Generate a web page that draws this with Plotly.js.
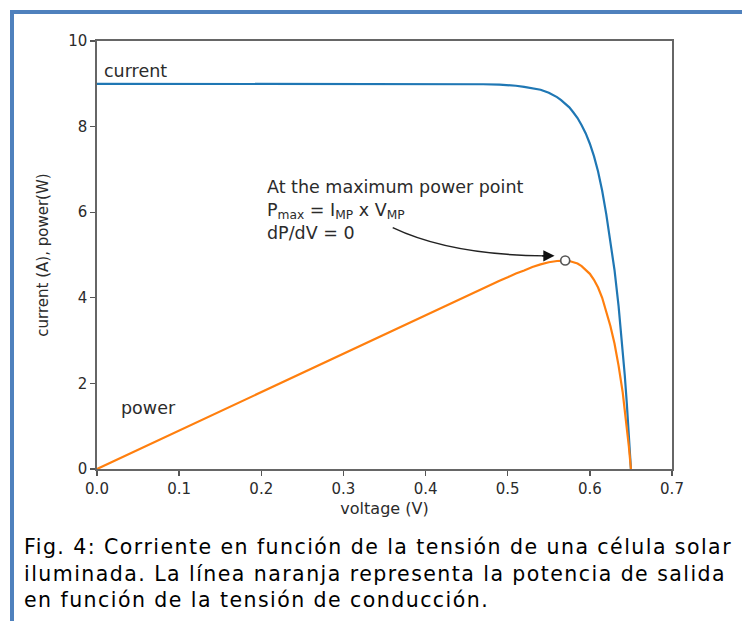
<!DOCTYPE html>
<html><head><meta charset="utf-8">
<script src="https://cdn.plot.ly/plotly-3.0.1.min.js"></script>
<style>html,body{margin:0;padding:0;background:#fff;}#c{width:742px;height:621px;}
g.annotation[data-index="4"] text{letter-spacing:1.45px;}</style>
</head><body><div id="c"></div>
<script>
// voltage samples (V)
const voltage = [0, 0.05, 0.1, 0.15, 0.2, 0.25, 0.3, 0.35, 0.4, 0.45, 0.47, 0.49, 0.5, 0.51, 0.52, 0.53, 0.54, 0.55, 0.56, 0.565, 0.57, 0.575, 0.58, 0.585, 0.59, 0.595, 0.6, 0.605, 0.61, 0.615, 0.62, 0.625, 0.63, 0.635, 0.64, 0.6425, 0.645, 0.6475, 0.65];
// current (A)
const current = [9.0, 9.0, 9.0, 9.0, 9.0, 9.0, 9.0, 9.0, 9.0, 8.995, 8.99, 8.98, 8.97, 8.955, 8.93, 8.90, 8.86, 8.79, 8.69, 8.62, 8.54, 8.45, 8.33, 8.20, 8.03, 7.84, 7.60, 7.31, 6.95, 6.50, 5.95, 5.35, 4.65, 3.80, 2.79, 2.19, 1.53, 0.80, 0];
// power (W)
const power = [0, 0.45, 0.9, 1.35, 1.8, 2.25, 2.7, 3.15, 3.6, 4.05, 4.23, 4.40, 4.48, 4.57, 4.64, 4.72, 4.78, 4.83, 4.86, 4.87, 4.87, 4.86, 4.83, 4.80, 4.74, 4.66, 4.56, 4.42, 4.24, 4.00, 3.69, 3.34, 2.93, 2.41, 1.79, 1.41, 0.99, 0.52, 0];
// maximum power point
const mppV = [0.57];
const mppP = [4.87];
const xTicks = [0, 0.1, 0.2, 0.3, 0.4, 0.5, 0.6, 0.7];
const xTickText = ["0.0", "0.1", "0.2", "0.3", "0.4", "0.5", "0.6", "0.7"];
const yTicks = [0, 2, 4, 6, 8, 10];

const W = 742, H = 621, L = 97, R = 70, T = 41, B = 152;
const pw = W - L - R, ph = H - T - B;
const px = v => (v - L) / pw;          // pixel x -> paper x
const py = v => (H - B - v) / ph;      // pixel y -> paper y

const txt = '#2b2b2b';
const traces = [
  {x: voltage, y: current, mode: 'lines', line: {color: '#1f77b4', width: 2.2}, hoverinfo: 'skip'},
  {x: voltage, y: power, mode: 'lines', line: {color: '#ff7f0e', width: 2.2}, hoverinfo: 'skip'},
  {x: mppV, y: mppP, mode: 'markers', marker: {color: '#ffffff', size: 9, line: {color: '#555555', width: 1.6}}, hoverinfo: 'skip'}
];

const layout = {
  width: W, height: H, showlegend: false,
  margin: {l: L, r: R, t: T, b: B, pad: 0},
  paper_bgcolor: '#ffffff', plot_bgcolor: '#ffffff',
  font: {family: 'DejaVu Sans', color: txt, size: 15},
  xaxis: {range: [0, 0.7], tickvals: xTicks, ticktext: xTickText, ticks: 'outside', ticklen: 5, tickcolor: '#555', tickwidth: 1.3,
          showgrid: false, zeroline: false, showline: true, mirror: true, linecolor: '#666', linewidth: 1.6,
          tickfont: {size: 15, color: txt}, title: {text: 'voltage (V)', font: {size: 16, color: txt}, standoff: 6}},
  yaxis: {range: [0, 10], tickvals: yTicks, ticks: 'outside', ticklen: 5, tickcolor: '#555', tickwidth: 1.3,
          showgrid: false, zeroline: false, showline: true, mirror: true, linecolor: '#666', linewidth: 1.6,
          tickfont: {size: 15, color: txt}, title: {text: 'current (A), power(W)', font: {size: 15, color: txt}, standoff: 16}},
  shapes: [
    {type: 'line', xref: 'paper', yref: 'paper', x0: px(10), x1: px(742), y0: py(12), y1: py(12), line: {color: '#4f81bd', width: 4}},
    {type: 'line', xref: 'paper', yref: 'paper', x0: px(12), x1: px(12), y0: py(10), y1: py(621), line: {color: '#4f81bd', width: 4}},
    {type: 'path', xref: 'x', yref: 'y', path: 'M 0.360 5.64 Q 0.43 5.0 0.545 4.98', line: {color: '#222', width: 1.4}}
  ],
  annotations: [
    {x: 0.006, y: 9.3, xref: 'x', yref: 'y', text: 'current', showarrow: false, xanchor: 'left', yanchor: 'middle', font: {size: 17.5, color: txt}},
    {x: 0.027, y: 1.43, xref: 'x', yref: 'y', text: 'power', showarrow: false, xanchor: 'left', yanchor: 'middle', font: {size: 17.5, color: txt}},
    {x: 0.205, y: 6.86, xref: 'x', yref: 'y', text: 'At the maximum power point<br>P<sub>max</sub> = I<sub>MP</sub> x V<sub>MP</sub><br>dP/dV = 0',
     showarrow: false, xanchor: 'left', yanchor: 'top', align: 'left', font: {size: 17.5, color: txt}},
    {x: 0.557, y: 4.98, xref: 'x', yref: 'y', ax: -14, ay: 0, text: '', showarrow: true, arrowhead: 2, arrowsize: 1.6, arrowwidth: 1.4, arrowcolor: '#111'},
    {x: px(22), y: py(533), xref: 'paper', yref: 'paper', xanchor: 'left', yanchor: 'top', align: 'left', showarrow: false,
     text: 'Fig. 4: Corriente en función de la tensión de una célula solar<br>iluminada. La línea naranja representa la potencia de salida<br>en función de la tensión de conducción.',
     font: {family: 'DejaVu Sans', size: 20.5, color: '#000'}}
  ]
};
Plotly.newPlot('c', traces, layout, {displayModeBar: false, staticPlot: true});
</script></body></html>
